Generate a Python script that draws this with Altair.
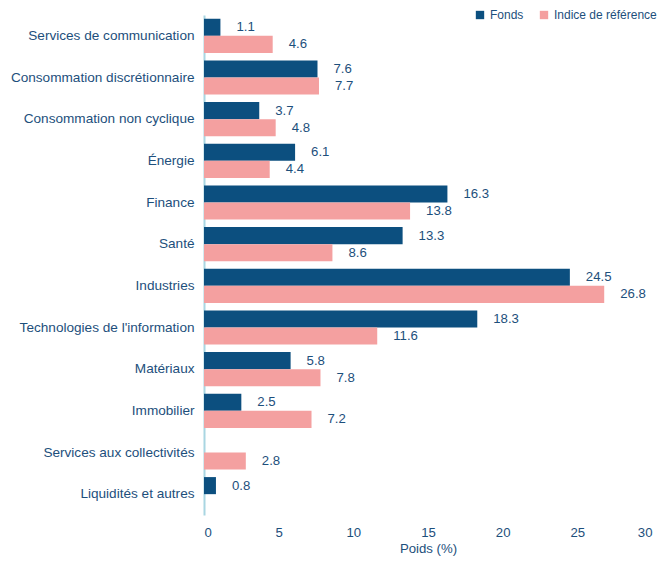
import altair as alt
import pandas as pd

categories = [
    "Services de communication",
    "Consommation discrétionnaire",
    "Consommation non cyclique",
    "Énergie",
    "Finance",
    "Santé",
    "Industries",
    "Technologies de l'information",
    "Matériaux",
    "Immobilier",
    "Services aux collectivités",
    "Liquidités et autres",
]
fonds = [1.1, 7.6, 3.7, 6.1, 16.3, 13.3, 24.5, 18.3, 5.8, 2.5, None, 0.8]
indice = [4.6, 7.7, 4.8, 4.4, 13.8, 8.6, 26.8, 11.6, 7.8, 7.2, 2.8, None]
series = ["Fonds", "Indice de référence"]
colors = ["#0c4f7f", "#f4a0a0"]

rows = []
for c, f, i in zip(categories, fonds, indice):
    if f is not None:
        rows.append({"cat": c, "serie": series[0], "val": f, "lab": f"{f:.1f}"})
    if i is not None:
        rows.append({"cat": c, "serie": series[1], "val": i, "lab": f"{i:.1f}"})
df = pd.DataFrame(rows)

txt = "#1d4f7c"
font = "Liberation Sans"
fs = 13.2

base = alt.Chart(df).encode(
    y=alt.Y("cat:N", sort=categories, title=None,
            scale=alt.Scale(paddingInner=0.18, paddingOuter=0.09),
            axis=alt.Axis(domainColor="#a9d6e2", domainWidth=2, ticks=False,
                          labelPadding=10, labelLimit=300, labelFontSize=13.6,
                          labelColor=txt, labelFont=font)),
    yOffset=alt.YOffset("serie:N", sort=series),
)

bars = base.mark_bar().encode(
    x=alt.X("val:Q", title="Poids (%)",
            scale=alt.Scale(domain=[0, 30], nice=False),
            axis=alt.Axis(values=[0, 5, 10, 15, 20, 25, 30], domain=False, ticks=False,
                          grid=False, labelPadding=11, labelFontSize=fs,
                          labelColor=txt, labelFont=font, titleFont=font,
                          titleFontSize=fs, titleFontWeight="normal",
                          titleColor=txt, titlePadding=4)),
    color=alt.Color("serie:N", sort=series,
                    scale=alt.Scale(domain=series, range=colors),
                    legend=alt.Legend(title=None, orient="none", direction="horizontal",
                                      legendX=270, legendY=-6, symbolType="square",
                                      symbolSize=70, symbolStrokeWidth=0,
                                      labelFontSize=12, labelColor=txt, labelFont=font,
                                      columnPadding=14, labelOffset=4)),
)

labels = base.mark_text(align="left", baseline="middle", dx=16, fontSize=fs,
                        color=txt, font=font).encode(
    x="val:Q",
    text="lab:N",
)

chart = (bars + labels).properties(
    width=448, height=500,
    autosize=alt.AutoSizeParams(type="none"),
    padding={"left": 204, "top": 15, "right": 12, "bottom": 49},
).configure(background="white").configure_view(stroke=None, strokeWidth=0)

chart.save("out.html", embed_options={"renderer": "svg", "actions": False})
